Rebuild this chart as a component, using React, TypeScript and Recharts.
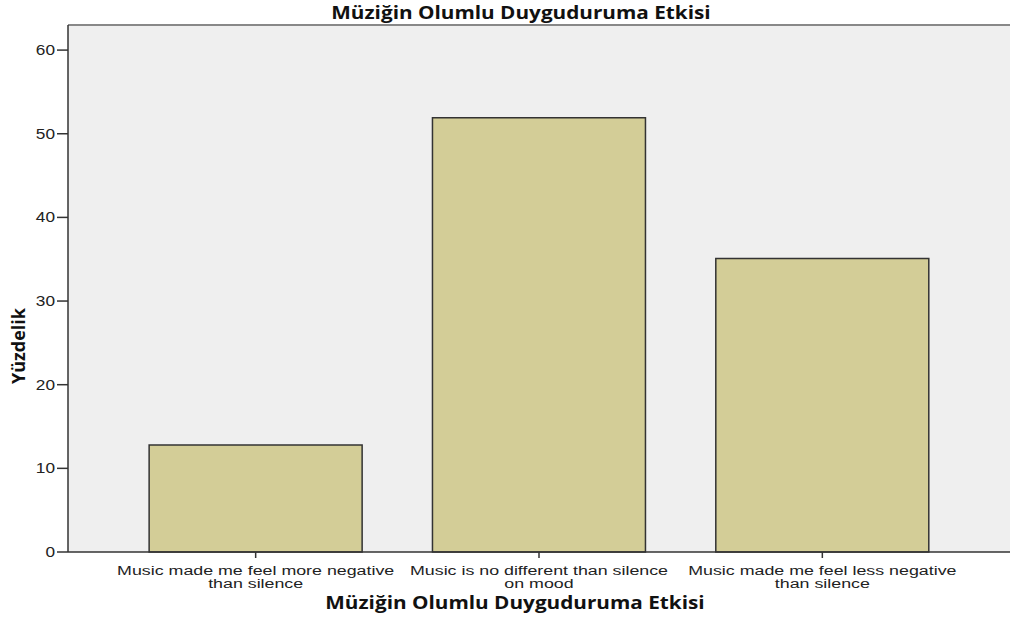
import {BarChart, Bar, XAxis, YAxis, CartesianGrid, ReferenceLine} from 'recharts';

const categories = [
    'Music made me feel more negative\nthan silence',
    'Music is no different than silence\non mood',
    'Music made me feel less negative\nthan silence',
];
const percents = [12.8, 51.9, 35.1];
const yTicks = [0, 10, 20, 30, 40, 50, 60];

const chartTitle = 'Müziğin Olumlu Duyguduruma Etkisi';
const xTitle = 'Müziğin Olumlu Duyguduruma Etkisi';
const yTitle = 'Yüzdelik';

const data = categories.map((c, i) => ({name: c, value: percents[i]}));

const W = 1010;
const H = 619;
const titleFont = '"Open Sans", "DejaVu Sans", sans-serif';
const tickFont = '"Liberation Sans", Arial, sans-serif';

// the source image is stretched sideways, so texts get a horizontal scale
function WideText({x, y, sx, size, bold, children}: any) {
    return (
        <text transform={`translate(${x},${y}) scale(${sx},1)`} textAnchor="middle"
              fontSize={size} fontWeight={bold ? 'bold' : 'normal'}
              fontFamily={bold ? titleFont : tickFont} fill="#111">
            {children}
        </text>
    );
}

function CategoryTick(props: any) {
    const {x, y, payload} = props;
    const lines = String(payload.value).split('\n');
    return (
        <g transform={`translate(${x},${y})`}>
            {lines.map((l, i) => (
                <text key={i} transform={`translate(0,${15 + i * 12.5}) scale(1.32,1)`} textAnchor="middle"
                      fontSize={13.5} fontFamily={tickFont} fill="#222">
                    {l}
                </text>
            ))}
        </g>
    );
}

function ValueTick(props: any) {
    const {x, y, payload} = props;
    return (
        <text transform={`translate(${x},${y + 5}) scale(1.15,1)`} textAnchor="end"
              fontSize={15} fontFamily={tickFont} fill="#222">
            {payload.value}
        </text>
    );
}

export default function App() {
    return (
        <div style={{position: 'absolute', left: 0, top: 0, width: W, height: H, background: '#fff'}}>
            <BarChart width={W} height={H} data={data}
                      margin={{top: 25, right: 0, left: 0, bottom: 37}}
                      barCategoryGap="12.4%">
                <CartesianGrid horizontal={false} vertical={false} fill="#EFEFEF"/>
                <XAxis dataKey="name" padding={{left: 46, right: 46}} height={30}
                       axisLine={{stroke: '#333', strokeWidth: 1.5}}
                       tickLine={{stroke: '#333', strokeWidth: 1.5}}
                       tickSize={6} interval={0} tick={<CategoryTick/>}/>
                <YAxis type="number" domain={[0, 63]} ticks={yTicks} width={68}
                       axisLine={{stroke: '#333', strokeWidth: 1.5}}
                       tickLine={{stroke: '#333', strokeWidth: 1.5}}
                       tickSize={11} tick={<ValueTick/>}/>
                <ReferenceLine y={63} stroke="#888" strokeWidth={2}/>
                <Bar dataKey="value" fill="#D3CD97" stroke="#333" strokeWidth={1.5}
                     isAnimationActive={false}/>
                <WideText x={521} y={19} sx={1.22} size={17} bold>{chartTitle}</WideText>
                <WideText x={515} y={609} sx={1.22} size={17} bold>{xTitle}</WideText>
                <text x={25} y={346} textAnchor="middle" fontSize={18} fontWeight="bold"
                      fontFamily={titleFont} fill="#111"
                      transform="rotate(-90, 25, 346)">{yTitle}</text>
            </BarChart>
        </div>
    );
}
